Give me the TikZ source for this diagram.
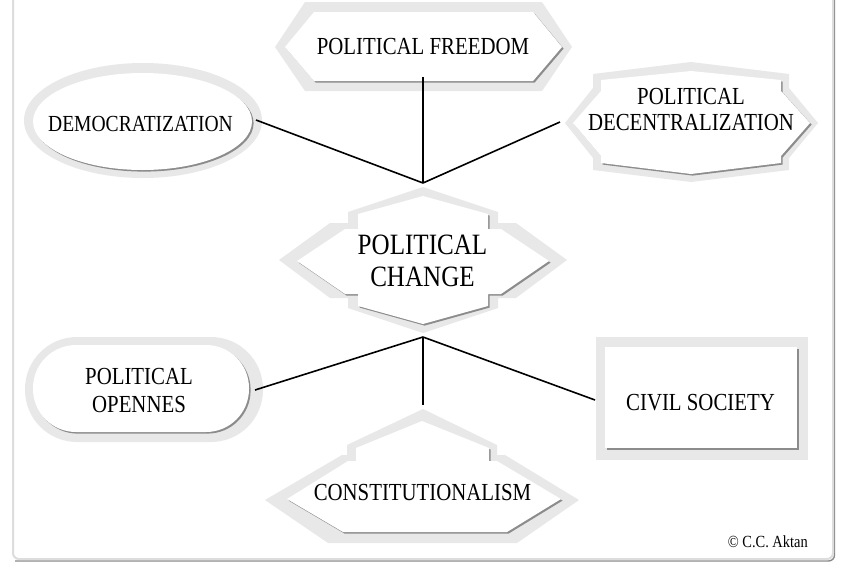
\documentclass[tikz,border=0pt]{standalone}
\usepackage{fontspec}
\setmainfont{Liberation Serif}[FakeStretch=0.85]
\definecolor{bandgray}{HTML}{E8E8E8}
\definecolor{shadegray}{HTML}{8C8C8C}
\definecolor{framelight}{HTML}{DDDDDD}
\definecolor{framedark}{HTML}{8A8A8A}

% inner faces of the shapes, drawn once as shadow and once as white face
\newcommand\freedomface[1]{\fill[#1] (285,47) -- (314,12) -- (533,12) -- (562,47) -- (533,81) -- (314,81) -- cycle;}
\newcommand\decface[1]{\fill[#1] (573,123) -- (601,91) -- (601,80) -- (691,71) -- (781,80) -- (781,91) -- (810,123) -- (781,156) -- (781,163) -- (691,174) -- (601,163) -- (601,156) -- cycle;}
\newcommand\changeface[1]{\fill[#1] (297,261) -- (345,229) -- (358,229) -- (358,214) -- (423,196) -- (488,214) -- (488,229) -- (501,229) -- (549,261) -- (501,294) -- (488,294) -- (488,306) -- (423,324) -- (358,306) -- (358,294) -- (345,294) -- cycle;}
\newcommand\constface[1]{\fill[#1] (287,499) -- (348,461) -- (356,461) -- (356,448) -- (422,421) -- (489,448) -- (489,461) -- (497,461) -- (561,499) -- (507,532) -- (343,532) -- cycle;}
\newcommand\openface[1]{\fill[#1, rounded corners=43pt] (33,345) rectangle (249,432);}
\newcommand\civilface[1]{\fill[#1] (605,347) rectangle (797,448);}
\newcommand\democface[1]{\fill[#1] (142.5,121.5) ellipse [x radius=109.5, y radius=48.5];}

\begin{document}
\begin{tikzpicture}[x=1pt,y=-1pt,
  band/.style={fill=bandgray},
  shade/.style={fill=shadegray, shift={(1.6,1.6)}},
  face/.style={fill=white},
  link/.style={draw=black, line width=1.6pt},
  lbl/.style={inner sep=0pt, align=center, font=\fontsize{24.5}{26}\selectfont},
]
\useasboundingbox (0,0) rectangle (850,570);

% page frame
\fill[white] (0,0) rectangle (850,570);
\draw[framedark, line width=1.4pt, rounded corners=6pt] (15,561) -- (834.5,561) -- (834.5,-20);
\draw[framelight, line width=2pt, rounded corners=6pt] (13,-20) -- (13,559) -- (833,559) -- (833,-20);

% outer bands
\fill[band] (275,47) -- (305,2) -- (542,2) -- (572,47) -- (542,91) -- (305,91) -- cycle;
\fill[band] (143,120.5) ellipse [x radius=119, y radius=57.5];
\fill[band] (565,123) -- (593,88) -- (593,74) -- (691,62) -- (789,74) -- (789,88) -- (818,123) -- (789,158) -- (789,170) -- (691,182) -- (593,170) -- (593,158) -- cycle;
\fill[band] (279,260) -- (330,223) -- (348,223) -- (348,212) -- (423,187) -- (498,212) -- (498,223) -- (516,223) -- (567,260) -- (516,298) -- (498,298) -- (498,308) -- (423,333) -- (348,308) -- (348,298) -- (330,298) -- cycle;
\fill[band, rounded corners=52pt] (25,337) rectangle (263,442);
\fill[band] (596,337) rectangle (808,460);
\fill[band] (265,500) -- (342,455) -- (347,455) -- (347,445) -- (423,409) -- (497,445) -- (497,455) -- (505,455) -- (579,500) -- (517,543) -- (328,543) -- cycle;

% shadows and faces
\freedomface{shade}\freedomface{face}
\democface{shade}\democface{face}
\decface{shade}\decface{face}
\changeface{shade}\changeface{face}
\openface{shade}\openface{face}
\civilface{shade}\civilface{face}
\constface{shade}\constface{face}

% labels
\node[lbl, anchor=base] (freedom) at (423,54) {POLITICAL FREEDOM};
\node[lbl, anchor=base, font=\fontsize{23}{25}\selectfont] (democ) at (140.5,131.5) {DEMOCRATIZATION};
\node[lbl] (decentral) at (691,110) {POLITICAL\\DECENTRALIZATION};
\node[lbl, font=\fontsize{29.5}{32}\selectfont] (change) at (422.5,260.5) {POLITICAL\\CHANGE};
\node[lbl, font=\fontsize{24.5}{28}\selectfont] (openness) at (139,391) {POLITICAL\\OPENNES};
\node[lbl, anchor=base] (civil) at (700.5,410) {CIVIL SOCIETY};
\node[lbl, anchor=base] (constit) at (422.5,500) {CONSTITUTIONALISM};
\node[inner sep=0pt, anchor=base east, font=\fontsize{17}{19}\selectfont] (credit) at (808,547) {© C.C. Aktan};

% connector ends
\coordinate (hubT) at (423,183);
\coordinate (hubB) at (423,337);
\coordinate (freedomEnd) at (423,77);
\coordinate (democEnd) at (256,120);
\coordinate (decEnd) at (560,122);
\coordinate (openEnd) at (255,390);
\coordinate (civilEnd) at (595,400);
\coordinate (constEnd) at (423,405);

% connectors
\draw[link] (freedomEnd) -- (hubT);
\draw[link] (democEnd) -- (hubT);
\draw[link] (decEnd) -- (hubT);
\draw[link] (hubB) -- (openEnd);
\draw[link] (hubB) -- (civilEnd);
\draw[link] (hubB) -- (constEnd);
\end{tikzpicture}
\end{document}
